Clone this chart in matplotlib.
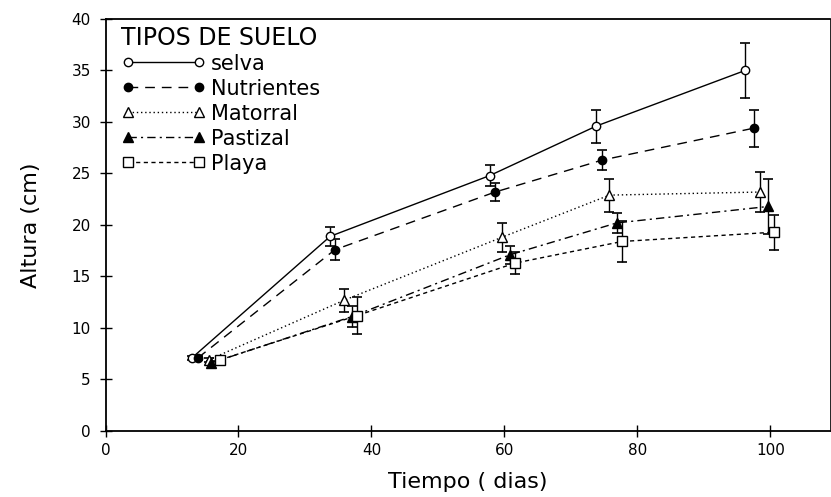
"""
Altura de plantas por tipo de suelo
"""
import matplotlib
matplotlib.use('Agg')
import matplotlib.pyplot as plt

# sampling days (each series is slightly offset in time)
dias_selva = [13.0, 33.8, 57.8, 73.8, 96.2]
dias_nutrientes = [13.9, 34.5, 58.6, 74.7, 97.5]
dias_matorral = [15.5, 35.9, 59.6, 75.8, 98.5]
dias_pastizal = [15.9, 37.0, 60.8, 76.9, 99.7]
dias_playa = [17.2, 37.8, 61.6, 77.7, 100.5]

# mean height (cm)
altura_selva = [7.1, 18.9, 24.8, 29.6, 35.0]
altura_nutrientes = [7.1, 17.6, 23.2, 26.3, 29.4]
altura_matorral = [6.9, 12.7, 18.8, 22.9, 23.2]
altura_pastizal = [6.6, 11.1, 17.1, 20.2, 21.8]
altura_playa = [6.9, 11.2, 16.3, 18.4, 19.3]

# standard error (cm)
err_selva = [0.2, 0.9, 1.0, 1.6, 2.7]
err_nutrientes = [0.2, 1.0, 0.9, 1.0, 1.8]
err_matorral = [0.2, 1.1, 1.4, 1.6, 1.9]
err_pastizal = [0.2, 1.0, 0.9, 1.0, 2.7]
err_playa = [0.2, 1.8, 1.1, 2.0, 1.7]

nombres = ['selva', 'Nutrientes', 'Matorral', 'Pastizal', 'Playa']

series = [
    (dias_selva, altura_selva, err_selva,
     dict(marker='o', mfc='white', ms=6, linestyle='-')),
    (dias_nutrientes, altura_nutrientes, err_nutrientes,
     dict(marker='o', mfc='black', ms=6, dashes=(7, 5))),
    (dias_matorral, altura_matorral, err_matorral,
     dict(marker='^', mfc='white', ms=7, dashes=(1, 2))),
    (dias_pastizal, altura_pastizal, err_pastizal,
     dict(marker='^', mfc='black', ms=7, dashes=(6, 3, 1.5, 3))),
    (dias_playa, altura_playa, err_playa,
     dict(marker='s', mfc='white', ms=7, dashes=(3, 2.5))),
]

plt.rcParams['font.family'] = 'DejaVu Sans'

fig = plt.figure(figsize=(8.31, 4.97), dpi=100)
ax = fig.add_axes([0.127, 0.1328, 0.872, 0.829])

handles = []
for (x, y, e, estilo), nombre in zip(series, nombres):
    ax.errorbar(x, y, yerr=e, fmt='none', ecolor='black', elinewidth=1.0,
                capsize=3.5, capthick=1.2, zorder=2)
    h, = ax.plot(x, y, color='black', lw=1.0, mec='black', mew=1.0,
                 label=nombre, zorder=3, **estilo)
    handles.append(h)

ax.set_xlim(0, 109)
ax.set_ylim(0, 40)
ax.set_xticks([0, 20, 40, 60, 80, 100])
ax.set_yticks(range(0, 41, 5))
ax.tick_params(direction='inout', length=9, width=1.0, labelsize=11,
               colors='black')
ax.tick_params(axis='y', pad=6)
ax.tick_params(axis='x', pad=4)
for s in ax.spines.values():
    s.set_linewidth(1.3)
ax.spines['right'].set_linewidth(0.6)

ax.set_xlabel('Tiempo ( dias)', fontsize=16, labelpad=10)
ax.set_ylabel('Altura (cm)', fontsize=16, labelpad=22)

# legend title drawn on its own so the entries sit closer below it
ax.text(0.022, 0.953, 'TIPOS DE SUELO', transform=ax.transAxes,
        fontsize=17, ha='left', va='center')
leg = ax.legend(handles=handles, loc='upper left',
                bbox_to_anchor=(0.022, 0.916), frameon=False, numpoints=2,
                fontsize=15, handlelength=4.0,
                handletextpad=0.3, labelspacing=0.24, borderpad=0,
                borderaxespad=0)

fig.savefig('out.png', dpi=100)
plt.close(fig)
